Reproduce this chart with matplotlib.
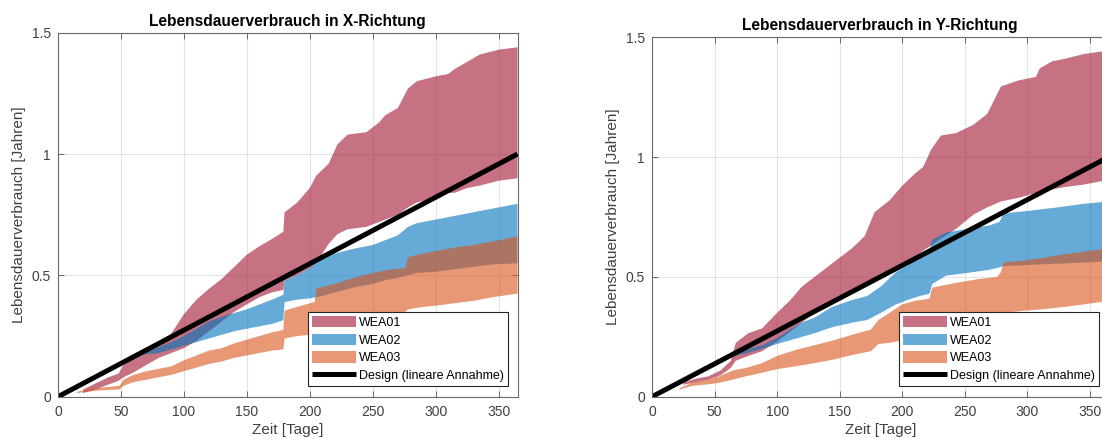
import matplotlib
matplotlib.use("Agg")
import matplotlib.pyplot as plt

plt.rcParams['font.family'] = ['Liberation Sans', 'DejaVu Sans']

# ---------------- X-Richtung ----------------
x_wea01_days = [20, 30, 40, 48, 52, 60, 70, 80, 90, 100, 110, 120, 130, 140, 150, 160, 170, 179, 180,
                190, 200, 205, 215, 222, 230, 245, 255, 260, 270, 278, 285, 300, 310, 315, 325, 335, 350, 365]
x_wea01_hi = [0.03, 0.055, 0.08, 0.095, 0.13, 0.165, 0.195, 0.225, 0.26, 0.34, 0.40, 0.445, 0.485, 0.535, 0.585,
              0.62, 0.65, 0.68, 0.76, 0.80, 0.86, 0.91, 0.96, 1.04, 1.08, 1.09, 1.13, 1.16, 1.19, 1.27, 1.30,
              1.32, 1.33, 1.35, 1.38, 1.41, 1.43, 1.44]
x_wea01_lo = [0.015, 0.03, 0.05, 0.065, 0.08, 0.10, 0.13, 0.16, 0.18, 0.20, 0.23, 0.27, 0.31, 0.35, 0.38,
              0.41, 0.43, 0.44, 0.48, 0.50, 0.53, 0.55, 0.63, 0.67, 0.69, 0.70, 0.72, 0.73, 0.75, 0.78, 0.80,
              0.82, 0.84, 0.84, 0.86, 0.87, 0.89, 0.90]

x_wea02_days = [65, 70, 80, 90, 100, 110, 120, 130, 140, 150, 160, 170, 179, 180, 190, 200, 210, 220, 235,
                250, 260, 270, 278, 285, 300, 315, 330, 345, 365]
x_wea02_hi = [0.175, 0.185, 0.205, 0.225, 0.25, 0.28, 0.31, 0.33, 0.345, 0.36, 0.38, 0.40, 0.42, 0.48, 0.50,
              0.53, 0.57, 0.59, 0.61, 0.625, 0.645, 0.665, 0.70, 0.715, 0.73, 0.745, 0.76, 0.775, 0.795]
x_wea02_lo = [0.17, 0.175, 0.18, 0.195, 0.21, 0.225, 0.24, 0.255, 0.27, 0.28, 0.29, 0.30, 0.315, 0.39, 0.40,
              0.405, 0.415, 0.43, 0.45, 0.465, 0.48, 0.49, 0.50, 0.51, 0.515, 0.525, 0.535, 0.545, 0.55]

x_wea03_days = [15, 30, 49, 52, 60, 70, 80, 90, 100, 110, 120, 130, 140, 150, 160, 170, 179, 180, 190, 200,
                204, 205, 220, 235, 250, 265, 276, 278, 290, 300, 315, 330, 345, 365]
x_wea03_hi = [0.02, 0.035, 0.045, 0.07, 0.09, 0.105, 0.115, 0.125, 0.15, 0.17, 0.19, 0.20, 0.22, 0.235, 0.25,
              0.265, 0.275, 0.355, 0.37, 0.385, 0.39, 0.445, 0.465, 0.49, 0.51, 0.525, 0.53, 0.575, 0.59, 0.60,
              0.615, 0.625, 0.64, 0.66]
x_wea03_lo = [0.015, 0.025, 0.03, 0.045, 0.06, 0.07, 0.08, 0.09, 0.105, 0.12, 0.135, 0.145, 0.16, 0.17, 0.18,
              0.19, 0.195, 0.24, 0.25, 0.255, 0.26, 0.27, 0.285, 0.30, 0.32, 0.34, 0.35, 0.36, 0.37, 0.375,
              0.385, 0.395, 0.41, 0.425]

# ---------------- Y-Richtung ----------------
y_wea01_days = [25, 35, 45, 55, 63, 67, 77, 88, 100, 110, 120, 130, 140, 150, 160, 170, 178, 190, 200, 210,
                217, 223, 231, 243, 257, 268, 279, 293, 307, 310, 320, 330, 345, 365]
y_wea01_hi = [0.06, 0.075, 0.085, 0.11, 0.15, 0.225, 0.265, 0.285, 0.35, 0.40, 0.46, 0.50, 0.54, 0.58, 0.62,
              0.67, 0.77, 0.82, 0.88, 0.93, 0.96, 1.03, 1.09, 1.10, 1.135, 1.18, 1.295, 1.32, 1.335, 1.37,
              1.40, 1.41, 1.43, 1.445]
y_wea01_lo = [0.05, 0.06, 0.07, 0.09, 0.12, 0.15, 0.17, 0.19, 0.23, 0.27, 0.31, 0.35, 0.38, 0.41, 0.44,
              0.46, 0.48, 0.52, 0.55, 0.58, 0.61, 0.63, 0.66, 0.70, 0.76, 0.79, 0.815, 0.83, 0.85, 0.855,
              0.865, 0.875, 0.885, 0.905]

y_wea02_days = [65, 75, 88, 100, 110, 120, 130, 144, 161, 172, 183, 195, 205, 214, 222, 224, 235, 257, 270,
                278, 281, 300, 324, 345, 365]
y_wea02_hi = [0.18, 0.195, 0.215, 0.245, 0.28, 0.31, 0.33, 0.375, 0.405, 0.42, 0.46, 0.52, 0.55, 0.59, 0.61,
              0.655, 0.685, 0.705, 0.715, 0.73, 0.765, 0.775, 0.79, 0.805, 0.815]
y_wea02_lo = [0.17, 0.18, 0.20, 0.22, 0.235, 0.25, 0.265, 0.29, 0.31, 0.32, 0.35, 0.385, 0.405, 0.42, 0.43,
              0.47, 0.505, 0.52, 0.53, 0.54, 0.545, 0.55, 0.555, 0.56, 0.565]

y_wea03_days = [22, 32, 45, 54, 65, 75, 88, 100, 116, 130, 145, 161, 175, 181, 190, 200, 210, 217, 222, 224,
                243, 260, 276, 279, 281, 300, 313, 330, 345, 365]
y_wea03_hi = [0.035, 0.058, 0.07, 0.086, 0.11, 0.12, 0.14, 0.17, 0.197, 0.215, 0.235, 0.26, 0.28, 0.32, 0.35,
              0.385, 0.40, 0.405, 0.41, 0.455, 0.475, 0.49, 0.50, 0.52, 0.56, 0.57, 0.58, 0.595, 0.605, 0.62]
y_wea03_lo = [0.03, 0.045, 0.052, 0.058, 0.072, 0.085, 0.10, 0.115, 0.128, 0.14, 0.155, 0.175, 0.19, 0.22,
              0.225, 0.235, 0.25, 0.26, 0.27, 0.29, 0.31, 0.325, 0.34, 0.345, 0.35, 0.36, 0.365, 0.375, 0.385,
              0.40]

# Linear design assumption: one year of life consumed per 365 days
design_days = [0, 365]
design_life = [0.0, 1.0]

labels = ['WEA01', 'WEA02', 'WEA03']
colors = [(0.635, 0.078, 0.184), (0.0, 0.447, 0.741), (0.850, 0.325, 0.098)]
design_label = 'Design (lineare Annahme)'

x_ticks = [0, 50, 100, 150, 200, 250, 300, 350]
y_ticks = [0, 0.5, 1, 1.5]
y_ticklabels = ['0', '0.5', '1', '1.5']

panels = [
    ('Lebensdauerverbrauch in X-Richtung',
     [(x_wea01_days, x_wea01_lo, x_wea01_hi),
      (x_wea02_days, x_wea02_lo, x_wea02_hi),
      (x_wea03_days, x_wea03_lo, x_wea03_hi)]),
    ('Lebensdauerverbrauch in Y-Richtung',
     [(y_wea01_days, y_wea01_lo, y_wea01_hi),
      (y_wea02_days, y_wea02_lo, y_wea02_hi),
      (y_wea03_days, y_wea03_lo, y_wea03_hi)]),
]

W, H = 1102, 440
fig = plt.figure(figsize=(W / 100, H / 100), dpi=100)

# axes boxes in pixels: left, top, right, bottom
boxes = [(58, 32.7, 517.5, 396.7), (652, 37.3, 1108.5, 396.7)]

axis_col = '#262626'
for (title, bands), (l, t, r, b) in zip(panels, boxes):
    ax = fig.add_axes([l / W, 1 - b / H, (r - l) / W, (b - t) / H])
    handles = []
    for (d, lo, hi), c, lab in zip(bands, colors, labels):
        h = ax.fill_between(d, lo, hi, facecolor=c, alpha=0.6, linewidth=0, label=lab)
        handles.append(h)
    ln, = ax.plot(design_days, design_life, color='black', linewidth=3.6,
                  solid_capstyle='butt', label=design_label)
    handles.append(ln)

    ax.set_xlim(0, 365)
    ax.set_ylim(0, 1.5)
    ax.set_xticks(x_ticks)
    ax.set_yticks(y_ticks)
    ax.set_yticklabels(y_ticklabels)
    ax.grid(True, color='#e3e3e3', linewidth=0.8)
    ax.set_axisbelow(True)
    ax.tick_params(direction='in', length=4, width=0.6, colors='#555555',
                   labelcolor='#404040', labelsize=10, top=True, right=True)
    ax.tick_params(axis='x', pad=6)
    ax.tick_params(axis='y', pad=5)
    for s in ax.spines.values():
        s.set_color('#6a6a6a')
        s.set_linewidth(0.8)

    ax.set_title(title, fontsize=11.2, fontweight='bold', color='black', pad=5)
    ax.set_xlabel('Zeit [Tage]', fontsize=11, color='#404040', labelpad=3)
    ax.set_ylabel('Lebensdauerverbrauch [Jahren]', fontsize=11, color='#404040', labelpad=4)

    aw, ah = r - l, b - t
    leg = ax.legend(handles=handles, loc='lower right',
                    bbox_to_anchor=(1 - 9.5 / aw, 11 / ah), borderaxespad=0,
                    fontsize=9, frameon=True, fancybox=False, framealpha=1,
                    edgecolor=axis_col, handlelength=3.5, handleheight=1.0,
                    handletextpad=0.3, labelspacing=0.38, borderpad=0.3)
    leg.get_frame().set_linewidth(0.8)

fig.savefig('out.png', dpi=100)
